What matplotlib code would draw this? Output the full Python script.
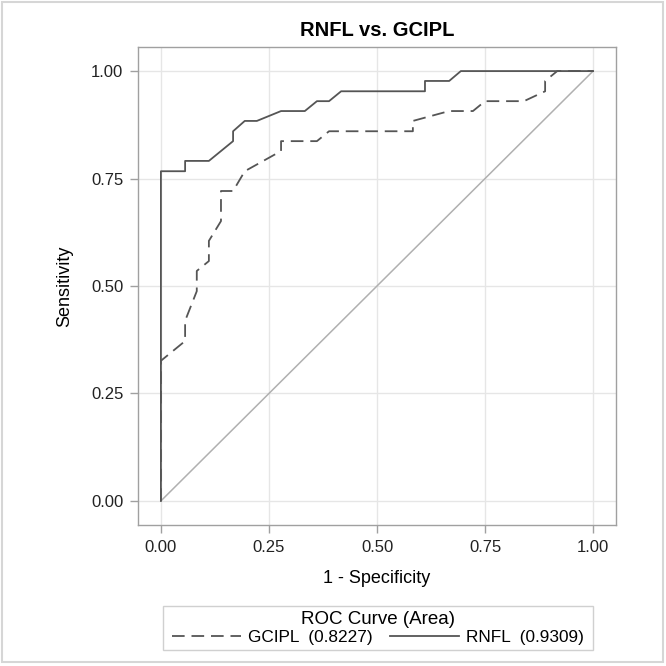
import matplotlib
matplotlib.use("Agg")
import matplotlib.pyplot as plt
from matplotlib.lines import Line2D
from matplotlib.patches import Rectangle

plt.rcParams['font.family'] = ['Liberation Sans', 'DejaVu Sans']

# ROC points (1 - specificity, sensitivity)
rnfl_fpr = [0.0, 0.0, 0.056, 0.056, 0.111, 0.167, 0.167, 0.194, 0.222, 0.278,
            0.333, 0.361, 0.389, 0.417, 0.611, 0.611, 0.667, 0.694, 1.0]
rnfl_tpr = [0.0, 0.767, 0.767, 0.791, 0.791, 0.837, 0.860, 0.884, 0.884, 0.907,
            0.907, 0.930, 0.930, 0.953, 0.953, 0.977, 0.977, 1.0, 1.0]

gcipl_fpr = [0.0, 0.0, 0.056, 0.056, 0.083, 0.083, 0.111, 0.111, 0.139, 0.139,
             0.167, 0.194, 0.278, 0.278, 0.361, 0.389, 0.583, 0.583, 0.667,
             0.722, 0.750, 0.840, 0.889, 0.889, 0.917, 1.0]
gcipl_tpr = [0.0, 0.326, 0.372, 0.419, 0.488, 0.535, 0.558, 0.605, 0.651, 0.721,
             0.721, 0.767, 0.814, 0.837, 0.837, 0.860, 0.860, 0.884, 0.907,
             0.907, 0.930, 0.930, 0.953, 0.977, 1.0, 1.0]

areas = {"GCIPL": 0.8227, "RNFL": 0.9309}
ticks = [0.0, 0.25, 0.5, 0.75, 1.0]

curve_col = '#555555'
frame_col = '#a0a0a0'
dash = (7, 3.8)

fig = plt.figure(figsize=(6.66, 6.66), dpi=100)
ax = fig.add_axes([138 / 666, 1 - 525 / 666, 478 / 666, 478 / 666])

ax.plot([0, 1], [0, 1], color='#b0b0b0', lw=1.1, zorder=2)
ax.plot(gcipl_fpr, gcipl_tpr, color=curve_col, lw=1.3, dashes=dash, zorder=3)
ax.plot(rnfl_fpr, rnfl_tpr, color=curve_col, lw=1.3, zorder=4)

ax.set_xlim(-0.053, 1.053)
ax.set_ylim(-0.056, 1.056)
ax.set_xticks(ticks)
ax.set_yticks(ticks)
ax.set_xticklabels([f"{t:.2f}" for t in ticks])
ax.set_yticklabels([f"{t:.2f}" for t in ticks])
ax.grid(True, color='#e6e6e6', lw=1.0)
ax.set_axisbelow(True)
for s in ax.spines.values():
    s.set_color(frame_col)
    s.set_linewidth(1.0)
ax.tick_params(colors=frame_col, labelcolor='#222222', labelsize=12,
               length=5.5, width=1.0, pad=5)

ax.set_xlabel('1 - Specificity', fontsize=13, labelpad=11)
ax.set_ylabel('Sensitivity', fontsize=13, labelpad=13)
ax.set_title('RNFL vs. GCIPL', fontsize=14.5, fontweight='bold', pad=8)

# legend below the axes, with its own box
fig.patches.append(Rectangle((163 / 666, 1 - 650 / 666), 430 / 666, 44 / 666,
                             transform=fig.transFigure, fill=False,
                             edgecolor='#d0d0d0', lw=1.0))
handles = [Line2D([], [], color=curve_col, lw=1.3, dashes=dash),
           Line2D([], [], color=curve_col, lw=1.3)]
labels = [f"{k}  ({v:.4f})" for k, v in areas.items()]
leg = fig.legend(handles, labels, loc='center', ncol=2, frameon=False,
                 bbox_to_anchor=(378 / 666, 1 - 628 / 666),
                 title='ROC Curve (Area)', fontsize=12.4, title_fontsize=13.5,
                 handlelength=4.0, columnspacing=1.0, handletextpad=0.4,
                 borderpad=0.1, labelspacing=0.1)

# outer image border
fig.patches.append(Rectangle((2 / 666, 4 / 666), 661 / 666, 660 / 666,
                             transform=fig.transFigure, fill=False,
                             edgecolor='#d6d6d6', lw=1.5))

fig.savefig('out.png', dpi=100)
